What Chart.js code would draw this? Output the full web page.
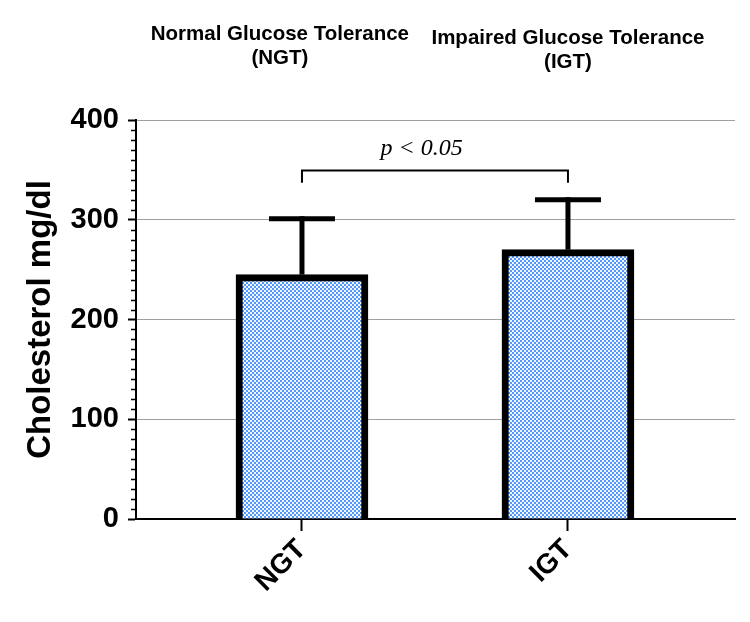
<!DOCTYPE html>
<html>
<head>
<meta charset="utf-8">
<script src="https://cdn.jsdelivr.net/npm/chart.js@4.4.1/dist/chart.umd.min.js"></script>
<style>
  html, body { margin: 0; padding: 0; background: #ffffff; }
  #wrap { width: 750px; height: 622px; }
</style>
</head>
<body>
<div id="wrap"><canvas id="c" width="750" height="622"></canvas></div>
<script>
// ---- data ----
const categories = ['NGT', 'IGT'];
const groupTitles = [['Normal Glucose Tolerance', '(NGT)'], ['Impaired Glucose Tolerance', '(IGT)']];
const meanValues = [245, 270];
const sdValues = [56, 50];
const yTickValues = [0, 100, 200, 300, 400];
const significanceLabel = 'p < 0.05';
const significanceLevel = 350;
const yAxisTitle = 'Cholesterol mg/dl';

const FONT = "'Liberation Sans', Arial, Helvetica, sans-serif";

function makePattern() {
  const p = document.createElement('canvas');
  p.width = 4; p.height = 4;
  const g = p.getContext('2d');
  g.fillStyle = '#f2f7ff';
  g.fillRect(0, 0, 4, 4);
  g.fillStyle = '#5297fb';
  g.fillRect(0, 0, 2, 2);
  g.fillRect(2, 2, 2, 2);
  return g.createPattern(p, 'repeat');
}

const ctx = document.getElementById('c').getContext('2d');
const pattern = makePattern();

const annotations = {
  id: 'annotations',
  afterDatasetsDraw(chart) {
    const { ctx, scales: { x, y }, chartArea } = chart;
    ctx.save();
    // minor ticks
    ctx.strokeStyle = '#000';
    ctx.lineWidth = 1.5;
    for (let v = 10; v < 400; v += 10) {
      if (v % 100 === 0) continue;
      const py = Math.round(y.getPixelForValue(v)) + 0.5;
      ctx.beginPath();
      ctx.moveTo(chartArea.left - 5, py);
      ctx.lineTo(chartArea.left, py);
      ctx.stroke();
    }
    // error bars (upper only)
    ctx.lineWidth = 5;
    ctx.lineCap = 'butt';
    meanValues.forEach((m, i) => {
      const px = x.getPixelForValue(i);
      const yb = y.getPixelForValue(m);
      const yt = y.getPixelForValue(m + sdValues[i]);
      ctx.beginPath();
      ctx.moveTo(px, yb);
      ctx.lineTo(px, yt - 2.5);
      ctx.stroke();
      ctx.beginPath();
      ctx.moveTo(px - 33, yt);
      ctx.lineTo(px + 33, yt);
      ctx.stroke();
    });
    // significance bracket
    const x0 = x.getPixelForValue(0), x1 = x.getPixelForValue(1);
    const yl = Math.round(y.getPixelForValue(significanceLevel)) + 0.5;
    const yd = y.getPixelForValue(significanceLevel - 13);
    ctx.lineWidth = 2;
    ctx.beginPath();
    ctx.moveTo(x0, yd);
    ctx.lineTo(x0, yl);
    ctx.lineTo(x1, yl);
    ctx.lineTo(x1, yd);
    ctx.stroke();
    ctx.fillStyle = '#000';
    ctx.font = "italic 24px 'Liberation Serif', 'Times New Roman', serif";
    ctx.textAlign = 'center';
    ctx.textBaseline = 'alphabetic';
    ctx.fillText(significanceLabel, x.getPixelForValue(0.45), 155);
    // group titles
    ctx.font = 'bold 20.5px ' + FONT;
    const titleY = [40, 44];
    groupTitles.forEach((lines, i) => {
      const tx = i === 0 ? x.getPixelForValue(-0.083) : x.getPixelForValue(i);
      lines.forEach((t, j) => {
        ctx.fillText(t, tx, titleY[i] + j * 24);
      });
    });
    ctx.restore();
  }
};

new Chart(ctx, {
  type: 'bar',
  data: {
    datasets: [{
      data: categories.map((c, i) => ({ x: i, y: meanValues[i] })),
      backgroundColor: pattern,
      borderColor: '#000',
      borderWidth: 7,
      borderSkipped: 'bottom',
      barThickness: 132
    }]
  },
  options: {
    responsive: false,
    animation: false,
    layout: { padding: { top: 120, right: 15, left: 0, bottom: 0 } },
    plugins: { legend: { display: false }, tooltip: { enabled: false } },
    scales: {
      x: {
        type: 'linear',
        offset: false,
        min: -0.624,
        max: 1.628,
        afterBuildTicks(scale) { scale.ticks = categories.map((c, i) => ({ value: i })); },
        afterFit(scale) { scale.height = 103; },
        ticks: {
          callback: (v) => categories[v],
          maxRotation: 45, minRotation: 45,
          color: '#000',
          padding: 2,
          font: { family: FONT, size: 28, weight: 'bold' }
        },
        grid: { offset: false, drawOnChartArea: false, tickLength: 12, tickColor: '#000', tickWidth: 2 },
        border: { color: '#000', width: 2 }
      },
      y: {
        min: 0,
        max: 400,
        afterBuildTicks(scale) { scale.ticks = yTickValues.map(v => ({ value: v })); },
        afterFit(scale) { scale.width = 136; },
        ticks: {
          color: '#000',
          padding: 9,
          font: { family: FONT, size: 29, weight: 'bold' }
        },
        grid: {
          color: (c) => (c.tick && c.tick.value === 0) ? 'rgba(0,0,0,0)' : '#a0a0a0',
          lineWidth: 1,
          tickColor: '#000',
          tickLength: 8,
          tickWidth: 2
        },
        border: { color: '#000', width: 2 },
        title: {
          display: true,
          text: yAxisTitle,
          color: '#000',
          padding: { top: 21, bottom: 0 },
          font: { family: FONT, size: 33, weight: 'bold' }
        }
      }
    }
  },
  plugins: [annotations]
});
</script>
</body>
</html>
